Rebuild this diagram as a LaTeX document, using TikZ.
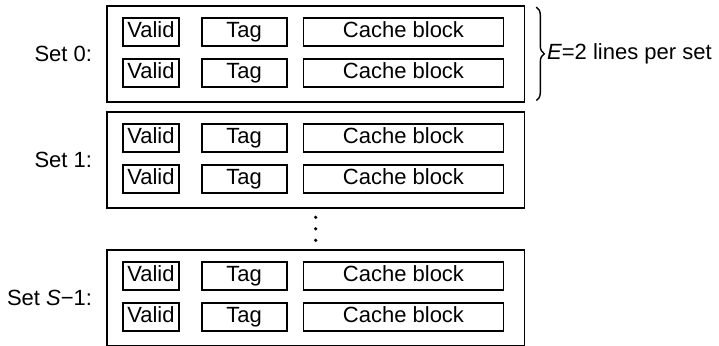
\documentclass[tikz,border=0pt]{standalone}
\usepackage{fontspec}
\setmainfont{Liberation Sans}
\usetikzlibrary{positioning, fit, calc, decorations.pathreplacing}

\begin{document}
\begin{tikzpicture}[node distance=5.5pt and 10.5pt,
    field/.style={rectangle, draw, line width=0.9pt, minimum height=14pt, inner sep=0pt, text height=8pt, text depth=2.5pt, font=\fontsize{11}{13}\selectfont},
    valid/.style={field, minimum width=28pt},
    tagbox/.style={field, minimum width=42.5pt},
    blockbox/.style={field, minimum width=100pt},
    setbox/.style={rectangle, draw, line width=0.9pt, inner sep=0pt},
    setlabel/.style={font=\fontsize{11}{13}\selectfont}
]
\useasboundingbox (0,0) rectangle (359.5pt,-172.5pt);

% Set 0: two lines
\node (v0a) [valid, anchor=north west] at (61pt,-8.5pt) {Valid};
\node (t0a) [tagbox, right=of v0a] {Tag};
\node (b0a) [blockbox, right=7.5pt of t0a] {Cache block};
\node (v0b) [valid, below=of v0a] {Valid};
\node (t0b) [tagbox, below=of t0a] {Tag};
\node (b0b) [blockbox, below=of b0a] {Cache block};
\node (s0) [setbox, fit={([shift={(-7.5pt,5.5pt)}]v0a.north west) ([shift={(10pt,-7pt)}]b0b.south east)}] {};
\node (l0) [setlabel, left=3.5pt of s0] {Set 0:};

% Set 1: two lines
\node (v1a) [valid, anchor=north west] at (61pt,-61.5pt) {Valid};
\node (t1a) [tagbox, right=of v1a] {Tag};
\node (b1a) [blockbox, right=7.5pt of t1a] {Cache block};
\node (v1b) [valid, below=of v1a] {Valid};
\node (t1b) [tagbox, below=of t1a] {Tag};
\node (b1b) [blockbox, below=of b1a] {Cache block};
\node (s1) [setbox, fit={([shift={(-7.5pt,5.5pt)}]v1a.north west) ([shift={(10pt,-7pt)}]b1b.south east)}] {};
\node (l1) [setlabel, left=3.5pt of s1] {Set 1:};

% Set S-1: two lines
\node (v2a) [valid, anchor=north west] at (61pt,-130.5pt) {Valid};
\node (t2a) [tagbox, right=of v2a] {Tag};
\node (b2a) [blockbox, right=7.5pt of t2a] {Cache block};
\node (v2b) [valid, below=of v2a] {Valid};
\node (t2b) [tagbox, below=of t2a] {Tag};
\node (b2b) [blockbox, below=of b2a] {Cache block};
\node (s2) [setbox, fit={([shift={(-7.5pt,5.5pt)}]v2a.north west) ([shift={(10pt,-7pt)}]b2b.south east)}] {};
\node (l2) [setlabel, left=3.5pt of s2] {Set \textit{S}−1:};

% Vertical dots between the sets
\coordinate (gap) at ($(s1.south)!0.5!(s2.north)$);
\foreach \dy in {-5.75pt,0pt,5.75pt}
    \fill ([yshift=\dy]gap) circle (0.9pt);

% Brace for the lines per set
\draw [decorate, decoration={brace, amplitude=4pt}, line width=0.7pt]
    ([xshift=5.5pt, yshift=-1pt]s0.north east) -- ([xshift=5.5pt, yshift=1pt]s0.south east)
    node (lines) [setlabel, midway, right=5pt, inner sep=0pt] {\textit{E}=2 lines per set};

\end{tikzpicture}
\end{document}
